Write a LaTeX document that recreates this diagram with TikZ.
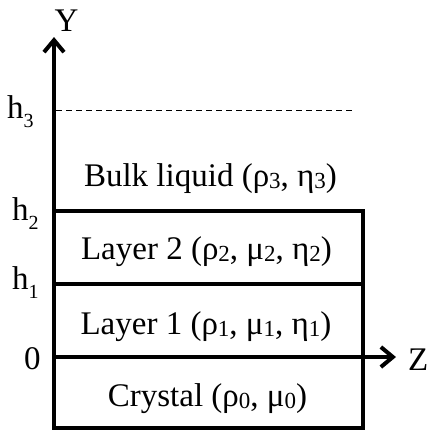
\documentclass[tikz,border=0pt]{standalone}
\usepackage{fontspec}
\setmainfont{Liberation Serif}
\usetikzlibrary{arrows.meta}
\newcommand\sbs[1]{\raisebox{-2.5pt}{\fontsize{23}{23}\selectfont #1}}
\newcommand\hsb[1]{\raisebox{-9pt}{\fontsize{20}{20}\selectfont #1}}
\begin{document}
\begin{tikzpicture}[x=1pt,y=-1pt,
  lbl/.style={inner sep=0pt,font=\fontsize{33}{38}\selectfont},
  heavy/.style={line width=4pt},
  axisarrow/.style={heavy,-{Straight Barb[length=12pt,width=20pt,line width=4pt]}}]
\useasboundingbox (0,0) rectangle (430,432);
% coordinates
\coordinate (o) at (54,428);
\coordinate (ytip) at (54,37);
\coordinate (zs) at (54,357);
\coordinate (ztip) at (396,357);
\coordinate (b2l) at (54,211);
\coordinate (b2r) at (363,211);
\coordinate (b1l) at (54,284);
\coordinate (b1r) at (363,284);
\coordinate (br) at (363,428);
\coordinate (d0) at (56,110);
\coordinate (d1) at (355,110);
% box
\draw[heavy,line cap=rect] (b2l) -- (b2r) -- (br) -- (o);
\draw[heavy] (b1l) -- (b1r);
\draw[axisarrow] (zs) -- (ztip);
\draw[axisarrow] (o) -- (ytip);
\draw[line width=1pt,dash pattern=on 6pt off 4pt] (d0) -- (d1);
% labels
\node[lbl,anchor=base] (ylab) at (66.5,31) {Y};
\node[lbl,anchor=base west] (zlab) at (408,370) {Z};
\node[lbl,anchor=base west] (h3) at (7,118) {h\hsb{3}};
\node[lbl,anchor=base west] (h2) at (12,220) {h\hsb{2}};
\node[lbl,anchor=base west] (h1) at (12,289) {h\hsb{1}};
\node[lbl,anchor=base west] (z0) at (24,369) {0};
\node[lbl,anchor=base] (bulk) at (210.5,186) {Bulk liquid (ρ\sbs{3}, η\sbs{3})};
\node[lbl,anchor=base] (l2) at (206.5,259) {Layer 2 (ρ\sbs{2}, μ\sbs{2}, η\sbs{2})};
\node[lbl,anchor=base] (l1) at (206,334) {Layer 1 (ρ\sbs{1}, μ\sbs{1}, η\sbs{1})};
\node[lbl,anchor=base] (cr) at (207.5,406) {Crystal (ρ\sbs{0}, μ\sbs{0})};
\end{tikzpicture}
\end{document}
